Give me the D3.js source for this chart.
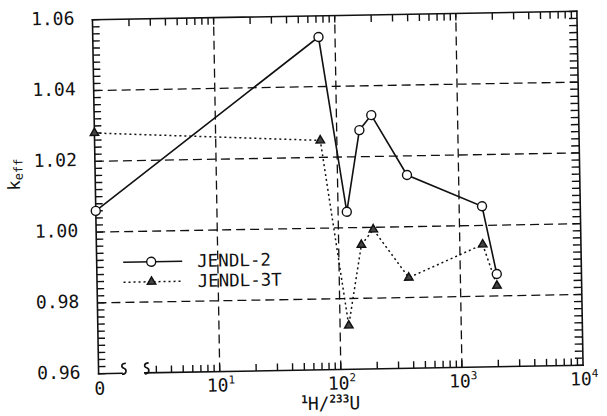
<!DOCTYPE html>
<html>
<head>
<meta charset="utf-8">
<script src="https://cdn.jsdelivr.net/npm/d3@7"></script>
<style>
  html, body { margin: 0; padding: 0; background: #fff; }
  svg { display: block; }
  text { font-family: "DejaVu Sans Mono", monospace; fill: #111; }
</style>
</head>
<body>
<svg id="chart" width="607" height="416"></svg>
<script>
// H/U atom ratio of each assembly (0 = no moderator)
const hU = [0, 73, 118, 154, 194, 375, 1545, 2000];
// k-eff computed with each library
const jendl2 = [1.006, 1.054, 1.0045, 1.0275, 1.0317, 1.0146, 1.0054, 0.9862];
const jendl3t = [1.028, 1.0248, 0.9724, 0.9951, 0.9994, 0.9856, 0.9946, 0.9829];
// axis ticks
const yLabels = [0.96, 0.98, 1.00, 1.02, 1.04, 1.06];
const yGrid = [0.98, 1.00, 1.02, 1.04];
const xDecades = [1, 2, 3, 4];
const xGrid = [10, 100, 1000];
const seriesNames = ["JENDL-2", "JENDL-3T"];

const L = 95.5, R = 580, T = 15.5, B = 369.5;
const ink = "#111";
const tilt = `rotate(-1, ${(L + R) / 2}, ${(T + B) / 2})`;

const svg = d3.select("#chart");
// whole drawing sits slightly tilted, as on the printed page
const root = svg.append("g").attr("transform", tilt);

const x = d3.scaleLog().domain([1, 1e4]).range([L, R]);
const y = d3.scaleLinear().domain([0.96, 1.06]).range([B, T]);
const xPos = v => v === 0 ? x(1) : x(v);

// minor tick values
const yMinor = d3.range(0, 51).map(i => 0.96 + i * 0.002);
const logMinor = [];
for (let e = 0; e < 4; e++) {
  for (let m = 1; m <= 9; m++) {
    const v = m * Math.pow(10, e);
    if (v > 1) logMinor.push(v);
  }
}
const bottomMinor = logMinor.filter(v => v >= 3);

// dashed grid
root.append("g").selectAll("line").data(yGrid).join("line")
  .attr("x1", L).attr("x2", R)
  .attr("y1", d => y(d)).attr("y2", d => y(d))
  .attr("stroke", ink).attr("stroke-width", 1.3)
  .attr("stroke-dasharray", "9,5");
root.append("g").selectAll("line").data(xGrid).join("line")
  .attr("x1", d => x(d)).attr("x2", d => x(d))
  .attr("y1", B).attr("y2", T)
  .attr("stroke", ink).attr("stroke-width", 1.3)
  .attr("stroke-dasharray", "9,5");

// inward tick marks, one combined path per side
function combTicks(values, draw) {
  const p = d3.path();
  values.forEach(v => draw(p, v));
  root.append("path").attr("d", p.toString())
    .attr("fill", "none").attr("stroke", ink).attr("stroke-width", 1.4);
}
combTicks(yMinor, (p, v) => { p.moveTo(L, y(v)); p.lineTo(L + 7, y(v)); });
combTicks(yMinor, (p, v) => { p.moveTo(R, y(v)); p.lineTo(R - 8, y(v)); });
combTicks(logMinor, (p, v) => { p.moveTo(x(v), T); p.lineTo(x(v), T + 7); });
combTicks(bottomMinor, (p, v) => { p.moveTo(x(v), B); p.lineTo(x(v), B - 7); });

// frame sides, with a break in the bottom axis between 0 and the log decades
const brk1 = x(1.62), brk2 = x(2.5);
const sides = [
  [L, T, L, B], [L, T, R, T], [R, T, R, B],
  [L, B, brk1 - 2, B], [brk2 - 2, B, R, B]
];
root.append("g").selectAll("line").data(sides).join("line")
  .attr("x1", d => d[0]).attr("y1", d => d[1])
  .attr("x2", d => d[2]).attr("y2", d => d[3])
  .attr("stroke", ink).attr("stroke-width", 1.6).attr("stroke-linecap", "square");
const squiggle = (px, py) =>
  `M${px - 2},${py + 1} C${px + 3},${py + 1} ${px + 3},${py - 4} ${px},${py - 5} ` +
  `C${px - 3},${py - 6} ${px - 3},${py - 10} ${px + 2},${py - 10}`;
root.append("g").selectAll("path").data([brk1, brk2]).join("path")
  .attr("d", d => squiggle(d, B))
  .attr("fill", "none").attr("stroke", ink).attr("stroke-width", 1.6);

// y tick labels
root.append("g").selectAll("text").data(yLabels).join("text")
  .attr("x", L - 18).attr("y", d => y(d) - 2)
  .attr("text-anchor", "end").attr("dominant-baseline", "central")
  .attr("font-size", 18)
  .text(d => d3.format(".2f")(d));

// x tick labels
root.append("text").attr("x", x(1) + 1).attr("y", B + 21)
  .attr("text-anchor", "middle").attr("font-size", 18).text("0");
const xl = root.append("g").selectAll("text").data(xDecades).join("text")
  .attr("x", d => x(Math.pow(10, d)) + 1).attr("y", B + 20)
  .attr("text-anchor", "middle").attr("font-size", 18);
xl.append("tspan").text("10");
xl.append("tspan").attr("font-size", 11).attr("dy", -8).text(d => d);

// axis titles
const xt = root.append("text").attr("x", 327).attr("y", B + 40)
  .attr("text-anchor", "middle").attr("font-size", 18);
xt.append("tspan").attr("font-size", 11).attr("dy", -7).attr("font-weight", "bold").text("1");
xt.append("tspan").attr("dy", 7).text("H/");
xt.append("tspan").attr("font-size", 11).attr("dy", -7).attr("font-weight", "bold").text("233");
xt.append("tspan").attr("dy", 7).text("U");

const yt = root.append("text")
  .attr("transform", `translate(20,169) rotate(-90)`)
  .attr("text-anchor", "middle").attr("font-size", 17);
yt.append("tspan").text("k");
yt.append("tspan").attr("font-size", 12).attr("dy", 3).text("eff");

// series
const pts = vals => hU.map((h, i) => [xPos(h), y(vals[i])]);
const line = d3.line();

root.append("path").attr("d", line(pts(jendl2)))
  .attr("fill", "none").attr("stroke", ink).attr("stroke-width", 1.6);
root.append("path").attr("d", line(pts(jendl3t)))
  .attr("fill", "none").attr("stroke", ink).attr("stroke-width", 1.5)
  .attr("stroke-dasharray", "2,3");

const tri = d3.symbol(d3.symbolTriangle).size(30);
root.append("g").selectAll("path").data(pts(jendl3t)).join("path")
  .attr("transform", d => `translate(${d[0]},${d[1]})`)
  .attr("d", tri).attr("fill", "#444").attr("stroke", ink).attr("stroke-width", 1.5);
root.append("g").selectAll("circle").data(pts(jendl2)).join("circle")
  .attr("cx", d => d[0]).attr("cy", d => d[1]).attr("r", 4.5)
  .attr("fill", "#fff").attr("stroke", ink).attr("stroke-width", 1.4);

// legend
const leg = root.append("g");
const rows = [258.5, 278.5];
leg.append("line").attr("x1", 122).attr("x2", 181).attr("y1", rows[0]).attr("y2", rows[0])
  .attr("stroke", ink).attr("stroke-width", 1.6);
leg.append("circle").attr("cx", 150).attr("cy", rows[0]).attr("r", 4.5)
  .attr("fill", "#fff").attr("stroke", ink).attr("stroke-width", 1.4);
leg.append("line").attr("x1", 122).attr("x2", 182).attr("y1", rows[1]).attr("y2", rows[1])
  .attr("stroke", ink).attr("stroke-width", 1.5).attr("stroke-dasharray", "2,3");
leg.append("path").attr("transform", `translate(150,${rows[1]})`)
  .attr("d", tri).attr("fill", "#444").attr("stroke", ink).attr("stroke-width", 1.5);
leg.selectAll("text").data(seriesNames).join("text")
  .attr("x", 196).attr("y", (d, i) => rows[i])
  .attr("dominant-baseline", "central").attr("font-size", 17.5)
  .text(d => d);
</script>
</body>
</html>
